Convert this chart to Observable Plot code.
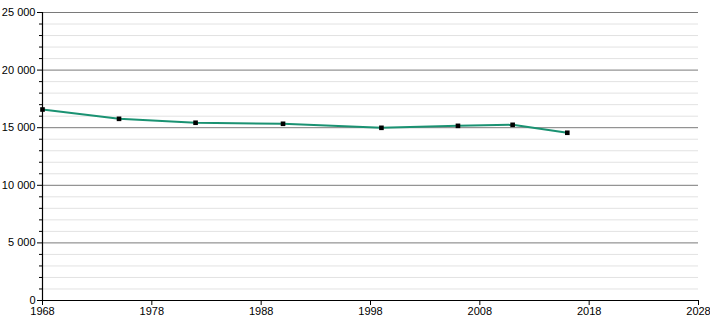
<!DOCTYPE html>
<html><head><meta charset="utf-8">
<script src="https://cdn.jsdelivr.net/npm/d3@7"></script>
<script src="https://cdn.jsdelivr.net/npm/@observablehq/plot@0.6"></script>
<style>body{margin:0;background:#fff}</style>
</head><body><div id="chart"></div>
<script>
const years = [1968, 1975, 1982, 1990, 1999, 2006, 2011, 2016];
const population = [16580, 15770, 15430, 15340, 14990, 15160, 15250, 14560];
const xTicks = [1968, 1978, 1988, 1998, 2008, 2018, 2028];
const yMajor = [0, 5000, 10000, 15000, 20000, 25000];
const yMinor = d3.range(0, 25001, 1000).filter(v => v % 5000 !== 0);

const data = years.map((y, i) => ({year: y, value: population[i]}));
const fmt = v => d3.format(",")(v).replace(/,/g, " ");

const chart = Plot.plot({
  width: 710,
  height: 320,
  marginLeft: 42,
  marginRight: 12,
  marginTop: 12,
  marginBottom: 20,
  style: {fontFamily: "'Liberation Sans', Arial, sans-serif", fontSize: "11px", color: "#000", background: "#fff"},
  x: {domain: [1968, 2028], label: null},
  y: {domain: [0, 25000], label: null},
  marks: [
    Plot.ruleY(yMinor, {stroke: "#e2e2e2", strokeWidth: 1}),
    Plot.ruleY(yMajor.filter(v => v > 0), {stroke: "#7a7a7a", strokeWidth: 1}),
    Plot.axisY(yMinor, {tickSize: 3, text: null, label: null, stroke: "#000"}),
    Plot.axisY(yMajor, {tickSize: 5, tickPadding: 2, tickFormat: fmt, label: null, stroke: "#000", fill: "#000"}),
    Plot.axisX(xTicks, {tickSize: 5, tickPadding: 2, tickFormat: d => String(d), label: null, stroke: "#000", fill: "#000"}),
    Plot.ruleX([1968], {stroke: "#000", strokeWidth: 1.2}),
    Plot.ruleY([0], {stroke: "#000", strokeWidth: 1.2}),
    Plot.line(data, {x: "year", y: "value", stroke: "#1a9272", strokeWidth: 2}),
    Plot.dot(data, {x: "year", y: "value", symbol: "square", r: 2.6, fill: "#000", stroke: "none"})
  ]
});
document.getElementById("chart").append(chart);
</script>
</body></html>
